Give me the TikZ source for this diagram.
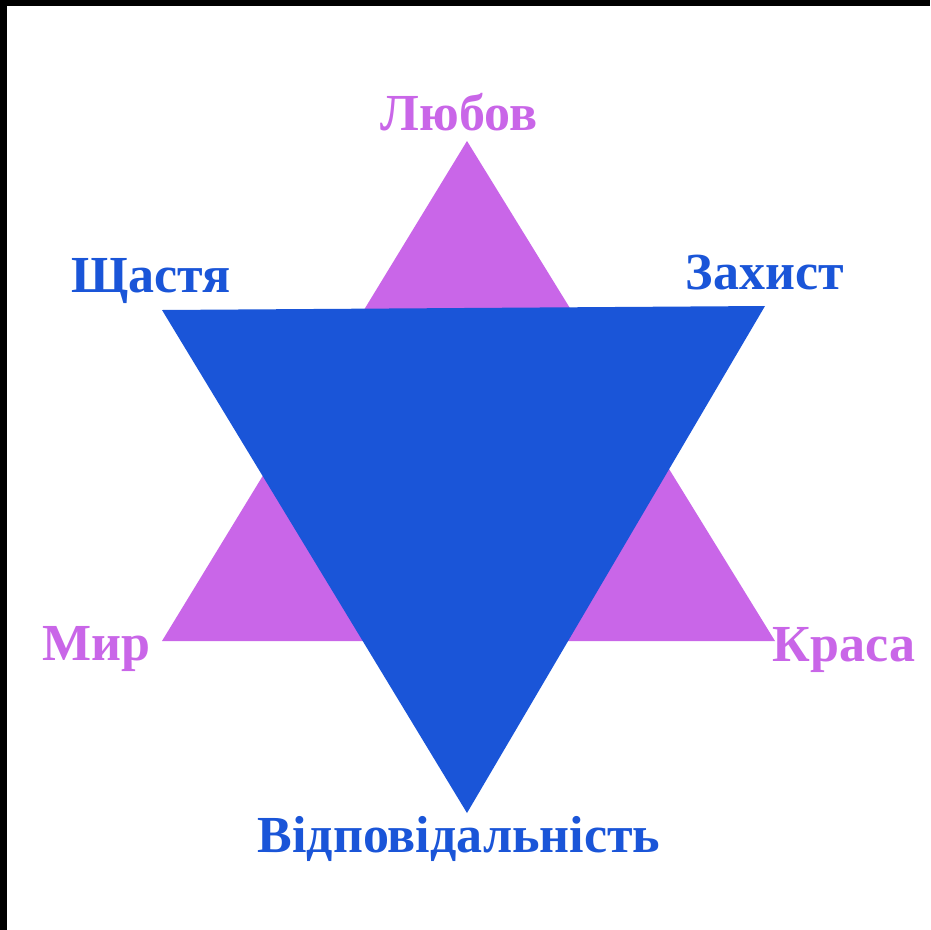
\documentclass[tikz,border=0pt]{standalone}
\usepackage{fontspec}
\setmainfont{Liberation Serif}
\definecolor{pinkc}{HTML}{C966E8}
\definecolor{bluec}{HTML}{1A55D8}
\begin{document}
\begin{tikzpicture}[x=1pt,y=-1pt,
  lbl/.style={font=\bfseries\fontsize{52}{56}\selectfont, inner sep=0pt, anchor=base},
  pinklbl/.style={lbl, text=pinkc},
  bluelbl/.style={lbl, text=bluec}]
\useasboundingbox (0,0) rectangle (930,930);
\fill[white] (0,0) rectangle (930,930);
\fill[black] (0,0) rectangle (930,6);
\fill[black] (0,0) rectangle (7,930);
% pink triangle
\coordinate (pA) at (467,141);
\coordinate (pL) at (162,641);
\coordinate (pR) at (775,641);
\fill[pinkc] (pA) -- (pL) -- (pR) -- cycle;
% blue triangle
\coordinate (bL) at (162,310);
\coordinate (bR) at (765,306);
\coordinate (bB) at (467,813);
\fill[bluec] (bL) -- (bR) -- (bB) -- cycle;
% labels
\node[pinklbl] (love) at (459,130) {Любов};
\node[bluelbl] (happy) at (151,292) {Щастя};
\node[bluelbl] (protect) at (765,289) {Захист};
\node[pinklbl] (peace) at (96,660) {Мир};
\node[pinklbl] (beauty) at (844,661) {Краса};
\node[bluelbl] (resp) at (459,852) {Відповідальність};
\end{tikzpicture}
\end{document}
